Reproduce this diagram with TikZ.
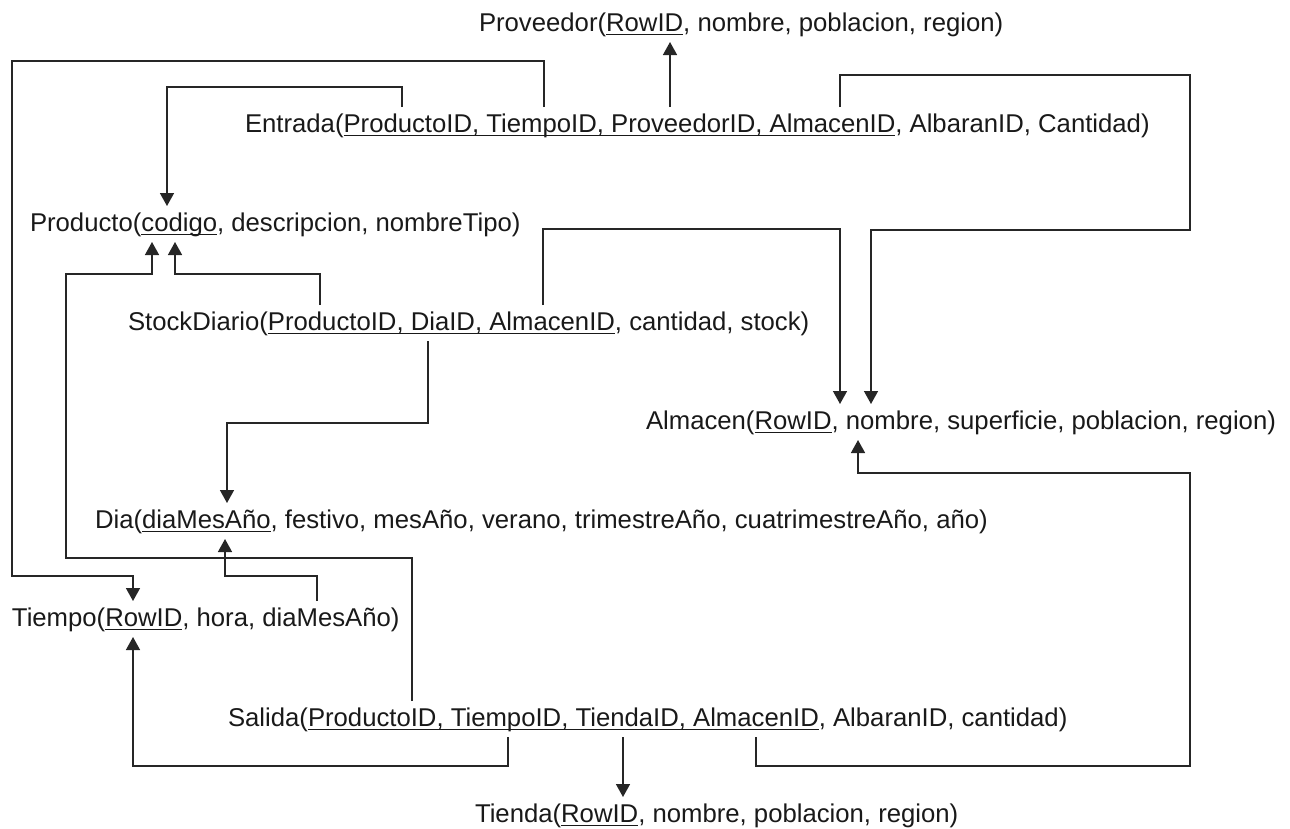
\documentclass[tikz,border=0pt]{standalone}
\usepackage{fontspec}
\setmainfont{Liberation Sans}
\usetikzlibrary{arrows.meta}
\newcommand{\ulk}[1]{\setbox0\hbox{#1}\rlap{\rule[-4pt]{\wd0}{1.5pt}}\box0}
\tikzset{
  tbl/.style={anchor=base west, inner xsep=0pt, inner ysep=5pt, outer sep=0pt,
    text height=20pt, text depth=6pt, font=\fontsize{25.7}{30}\selectfont, text=black!90},
  fk/.style={line width=1.5pt, draw=black!85, -{Triangle[width=14pt,length=13pt]}}
}
\begin{document}
\begin{tikzpicture}[x=1pt,y=-1pt]
\useasboundingbox (0,0) rectangle (1290,828);
\node[tbl] (prov) at (479,31) {Proveedor(\ulk{RowID}, nombre, poblacion, region)};
\node[tbl] (ent) at (245,132) {Entrada(\ulk{ProductoID, TiempoID, ProveedorID, AlmacenID}, AlbaranID, Cantidad)};
\node[tbl] (prod) at (30,231) {Producto(\ulk{codigo}, descripcion, nombreTipo)};
\node[tbl] (stock) at (128,330) {StockDiario(\ulk{ProductoID, DiaID, AlmacenID}, cantidad, stock)};
\node[tbl] (alm) at (646,429) {Almacen(\ulk{RowID}, nombre, superficie, poblacion, region)};
\node[tbl] (dia) at (95,528) {Dia(\ulk{diaMesAño}, festivo, mesAño, verano, trimestreAño, cuatrimestreAño, año)};
\node[tbl] (tiempo) at (12,626) {Tiempo(\ulk{RowID}, hora, diaMesAño)};
\node[tbl] (sal) at (228,726) {Salida(\ulk{ProductoID, TiempoID, TiendaID, AlmacenID}, AlbaranID, cantidad)};
\node[tbl] (tienda) at (475,822) {Tienda(\ulk{RowID}, nombre, poblacion, region)};
% Entrada
\draw[fk] (402,0 |- ent.north) -- (402,87) -- (167,87) -- (167,0 |- prod.north);
\draw[fk] (544,0 |- ent.north) -- (544,61) -- (12,61) -- (12,576) -- (133,576) -- (133,0 |- tiempo.north);
\draw[fk] (670,0 |- ent.north) -- (670,0 |- prov.south);
\draw[fk] (840,0 |- ent.north) -- (840,75) -- (1190,75) -- (1190,230) -- (871,230) -- (871,0 |- alm.north);
% StockDiario
\draw[fk] (320,0 |- stock.north) -- (320,274) -- (175,274) -- (175,0 |- prod.south);
\draw[fk] (428,0 |- stock.south) -- (428,423) -- (227,423) -- (227,0 |- dia.north);
\draw[fk] (543,0 |- stock.north) -- (543,229) -- (840,229) -- (840,0 |- alm.north);
% Salida
\draw[fk] (412,0 |- sal.north) -- (412,558) -- (66,558) -- (66,274) -- (152,274) -- (152,0 |- prod.south);
\draw[fk] (508,0 |- sal.south) -- (508,766) -- (133,766) -- (133,0 |- tiempo.south);
\draw[fk] (623,0 |- sal.south) -- (623,0 |- tienda.north);
\draw[fk] (756,0 |- sal.south) -- (756,766) -- (1190,766) -- (1190,473) -- (858,473) -- (858,0 |- alm.south);
% Tiempo
\draw[fk] (317,0 |- tiempo.north) -- (317,576) -- (225,576) -- (225,0 |- dia.south);
\end{tikzpicture}
\end{document}
